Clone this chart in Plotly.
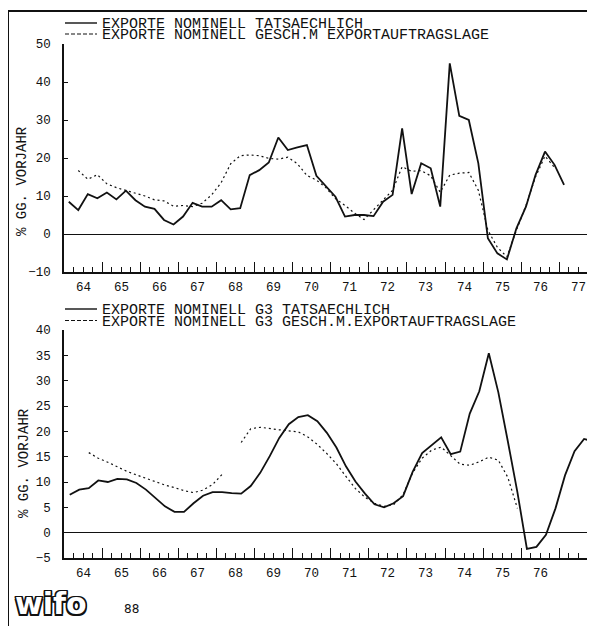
import plotly.graph_objects as go

# The page shows the figure 8px in from the window's top-left corner,
# so the figure is sized to fit and all reference pixel positions are offset.
OFF = 8
W, H = 595 - OFF, 626 - OFF

# ---------------- data ----------------
year_labels = ["64", "65", "66", "67", "68", "69", "70", "71", "72", "73", "74", "75", "76", "77"]
bottom_year_labels = ["64", "65", "66", "67", "68", "69", "70", "71", "72", "73", "74", "75", "76"]

top_start = 1964.125   # first quarter (mid-quarter position)
top_actual = [8.5, 6.3, 10.5, 9.4, 10.9, 9.1, 11.4, 8.9, 7.2, 6.6,
              3.7, 2.5, 4.6, 8.2, 7.2, 7.2, 8.9, 6.5, 6.8, 15.5,
              16.8, 18.8, 25.4, 22.1, 22.8, 23.4, 15.3, 12.5, 9.8, 4.6,
              5.0, 5.0, 4.7, 8.5, 10.3, 27.8, 10.5, 18.6, 17.3, 7.2,
              44.9, 31.1, 30.0, 18.6, -1.1, -5.1, -6.7, 1.5, 7.2, 15.5,
              21.7, 18.2, 12.9]
top_estimated = [None, 16.7, 14.4, 15.6, 13.2, 12.2, 11.5, 10.9, 10.0, 9.0,
                 8.7, 7.3, 7.5, 7.2, 8.1, 10.3, 13.5, 18.5, 20.6, 20.8,
                 20.6, 19.9, 19.7, 20.2, 18.5, 15.4, 14.2, 12.2, 9.3, 7.5,
                 5.5, 3.8, 6.3, 8.9, 11.5, 17.7, 16.5, 16.7, 15.3, 11.0,
                 15.5, 16.0, 16.2, 11.5, 1.0, -3.5, -6.0, 1.0, 7.5, 15.0,
                 20.5, 17.5, None]

bot_start = 1964.15
bot_actual = [7.5, 8.5, 8.8, 10.3, 10.0, 10.6, 10.5, 9.8, 8.5, 6.8,
              5.2, 4.1, 4.1, 5.8, 7.3, 8.0, 8.0, 7.8, 7.7, 9.2,
              11.8, 15.1, 18.7, 21.4, 22.8, 23.2, 22.0, 19.7, 16.8, 13.1,
              10.1, 7.7, 5.6, 5.0, 5.8, 7.2, 12.0, 15.7, 17.3, 18.8,
              15.5, 16.0, 23.5, 27.9, 35.4, 27.7, 18.0, 8.0, -3.2, -2.8,
              -0.4, 4.8, 11.3, 16.1, 18.5, 18.0]
bot_estimated = [None, None, 15.8, 14.7, 13.9, 13.0, 12.1, 11.4, 10.7, 10.1,
                 9.4, 8.9, 8.3, 7.9, 8.4, 9.5, 11.5, None, 17.8, 20.5,
                 20.8, 20.5, 20.3, 20.1, 19.9, 18.9, 17.4, 15.6, 13.6, 11.1,
                 8.7, 7.0, 5.8, 5.2, 5.5, 7.5, 11.8, 14.7, 16.3, 16.9,
                 15.1, 13.5, 13.3, 14.0, 14.9, 14.3, 10.9, 4.8, None, None,
                 None, None, None, None, None, None]

top_ticks = [-10, 0, 10, 20, 30, 40, 50]
bot_ticks = [-5, 0, 5, 10, 15, 20, 25, 30, 35, 40]

top_legend = ["EXPORTE NOMINELL TATSAECHLICH",
              "EXPORTE NOMINELL GESCH.M EXPORTAUFTRAGSLAGE"]
bot_legend = ["EXPORTE NOMINELL G3 TATSAECHLICH",
              "EXPORTE NOMINELL G3 GESCH.M.EXPORTAUFTRAGSLAGE"]
y_title = "% GG. VORJAHR"

# --------------- helpers (reference window pixels -> paper) ---------------
def px_x(p):
    return (p - OFF) / W

def px_y(p):
    return 1 - (p - OFF) / H

top_t = [top_start + 0.25 * i for i in range(len(top_actual))]
bot_t = [bot_start + 0.25 * i for i in range(len(bot_actual))]

YEAR_PX = 38.1
X0, X1 = 1964.0, 1964.0 + (595 - 64) / YEAR_PX
xdom = [px_x(64), 1.0]

MONO = "Liberation Mono"
BLACK = "#111111"

fig = go.Figure()

solid = dict(color=BLACK, width=1.8)
dotted = dict(color=BLACK, width=1.2, dash="2px,3px")

fig.add_trace(go.Scatter(x=top_t, y=top_actual, mode="lines", line=solid,
                         xaxis="x", yaxis="y", showlegend=False))
fig.add_trace(go.Scatter(x=top_t, y=top_estimated, mode="lines", line=dotted,
                         xaxis="x", yaxis="y", showlegend=False, connectgaps=False))
fig.add_trace(go.Scatter(x=bot_t, y=bot_actual, mode="lines", line=solid,
                         xaxis="x2", yaxis="y2", showlegend=False))
fig.add_trace(go.Scatter(x=bot_t, y=bot_estimated, mode="lines", line=dotted,
                         xaxis="x2", yaxis="y2", showlegend=False, connectgaps=False))

years = list(range(1964, 1978))

def main_x(anchor):
    return dict(domain=xdom, range=[X0, X1], anchor=anchor, showline=True,
                linecolor=BLACK, linewidth=1.6, showgrid=False, zeroline=False,
                automargin=False,
                tickmode="array", tickvals=years, ticks="inside", ticklen=10,
                tickwidth=1, tickcolor=BLACK, showticklabels=False,
                minor=dict(tickmode="linear", tick0=1964, dtick=0.25, ticks="inside",
                           ticklen=5, tickwidth=1, tickcolor=BLACK, showgrid=False))

def y_axis(dom, rng, ticks, anchor):
    return dict(domain=dom, range=rng, anchor=anchor, automargin=False,
                showline=True, linecolor=BLACK, linewidth=1.6, showgrid=False,
                zeroline=True, zerolinecolor=BLACK, zerolinewidth=1.4,
                tickmode="array", tickvals=ticks, ticks="inside", ticklen=4,
                tickcolor=BLACK, ticklabelstandoff=9,
                tickfont=dict(family=MONO, size=12.5, color=BLACK))

fig.update_layout(
    width=W, height=H, margin=dict(l=0, r=0, t=0, b=0, pad=0, autoexpand=False),
    paper_bgcolor="white", plot_bgcolor="white", showlegend=False,
    xaxis=main_x("y"),
    xaxis2=main_x("y2"),
    yaxis=y_axis([px_y(272), px_y(44)], [-10, 50], top_ticks, "x"),
    yaxis2=y_axis([px_y(558), px_y(330)], [-5, 40], bot_ticks, "x2"),
)

shapes = []
# page frame
shapes.append(dict(type="line", xref="paper", yref="paper", x0=px_x(8), x1=1.0,
                   y0=px_y(11), y1=px_y(11), line=dict(color=BLACK, width=2)))
shapes.append(dict(type="line", xref="paper", yref="paper", x0=px_x(8), x1=px_x(8),
                   y0=px_y(11), y1=0, line=dict(color=BLACK, width=2)))

annotations = []

# year labels centred in each year
for i, lab in enumerate(year_labels):
    annotations.append(dict(xref="x", yref="paper", x=1964.5 + i, y=px_y(288),
                            xanchor="center", yanchor="middle", showarrow=False,
                            text=lab, font=dict(family=MONO, size=12.5, color=BLACK)))
for i, lab in enumerate(bottom_year_labels):
    annotations.append(dict(xref="x2", yref="paper", x=1964.5 + i, y=px_y(574),
                            xanchor="center", yanchor="middle", showarrow=False,
                            text=lab, font=dict(family=MONO, size=12.5, color=BLACK)))

def legend(rows_y, texts):
    for i, (yy, txt) in enumerate(zip(rows_y, texts)):
        shapes.append(dict(type="line", xref="paper", yref="paper",
                           x0=px_x(65), x1=px_x(97), y0=px_y(yy), y1=px_y(yy),
                           line=dict(color=BLACK, width=1.4 if i == 0 else 1.2,
                                     dash="solid" if i == 0 else "4px,2px")))
        annotations.append(dict(xref="paper", yref="paper", x=px_x(100), y=px_y(yy + 1.5),
                                xanchor="left", yanchor="middle", showarrow=False,
                                text=txt, font=dict(family=MONO, size=15, color=BLACK)))

legend([23, 34], top_legend)
legend([309, 320.5], bot_legend)

for xx, yy in [(22, 181), (24, 463)]:
    annotations.append(dict(xref="paper", yref="paper", x=px_x(xx), y=px_y(yy),
                            xanchor="center", yanchor="middle", showarrow=False,
                            textangle=-90, text=y_title,
                            font=dict(family=MONO, size=14, color=BLACK)))

annotations.append(dict(xref="paper", yref="paper", x=px_x(13), y=px_y(603),
                        xanchor="left", yanchor="middle", showarrow=False,
                        text="<b>wifo</b>",
                        font=dict(family="DejaVu Sans", size=30, color="white",
                                  shadow="1.5px 1.5px 0 #111, -1.5px -1.5px 0 #111, 1.5px -1.5px 0 #111, -1.5px 1.5px 0 #111, 0 1.5px 0 #111, 0 -1.5px 0 #111, 1.5px 0 0 #111, -1.5px 0 0 #111")))
annotations.append(dict(xref="paper", yref="paper", x=px_x(131), y=px_y(609),
                        xanchor="center", yanchor="middle", showarrow=False,
                        text="88", font=dict(family="DejaVu Sans", size=12, color=BLACK)))

fig.update_layout(shapes=shapes, annotations=annotations)

fig.write_html("out.html")
